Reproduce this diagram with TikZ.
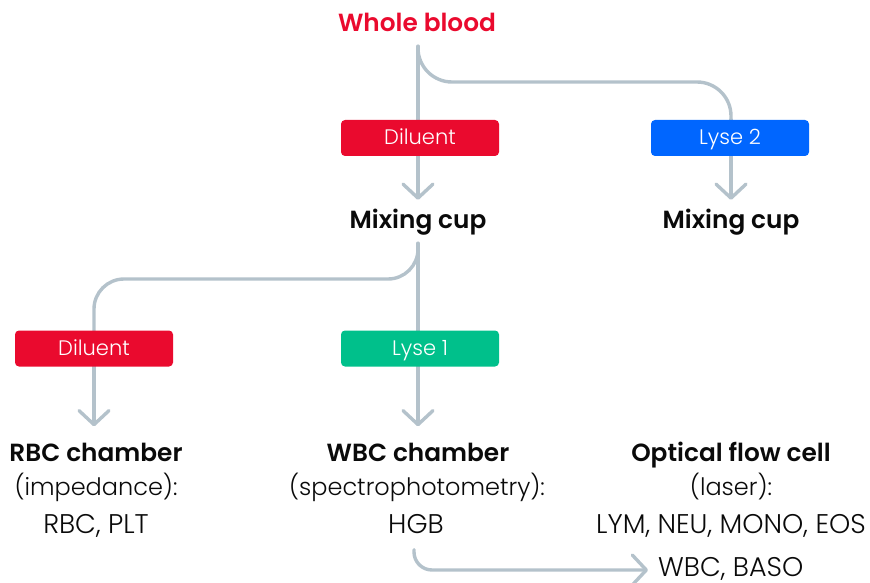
\documentclass[tikz,border=0pt]{standalone}
\usepackage{fontspec}
\setmainfont{Poppins Light}[BoldFont={Poppins SemiBold}]
\usetikzlibrary{arrows.meta,backgrounds}
\definecolor{flowgray}{HTML}{B4C2CB}
\definecolor{redc}{HTML}{EA0A2E}
\definecolor{bluec}{HTML}{0066FF}
\definecolor{greenc}{HTML}{00C08B}
\definecolor{inkc}{HTML}{0A0A0A}
\tikzset{
  flow/.style={draw=flowgray,line width=3.4pt,line cap=round,line join=round},
  arrowed/.style={flow,-{Straight Barb[length=14pt,width=30pt,round,line width=3.4pt]}},
  tag/.style={rounded corners=4pt,minimum width=158pt,minimum height=36pt,inner sep=0pt,text=white,font=\fontsize{21}{21}\selectfont,text height=17pt,text depth=3pt},
  head/.style={inner sep=0pt,anchor=base,text=inkc,font=\fontsize{24.8}{25}\selectfont\bfseries},
  body/.style={inner sep=0pt,anchor=base,text=inkc,font=\fontsize{24}{24}\selectfont},
  value/.style={body,font=\fontsize{27}{27}\selectfont},
}
\begin{document}
\begin{tikzpicture}[x=1pt,y=-1pt]
\useasboundingbox (0,0) rectangle (870,583);
\node[head,text=redc,text height=24pt,text depth=14pt] (blood) at (417,32) {Whole blood};
\node[head,text height=28pt,text depth=15pt] (mixa) at (418,228) {Mixing cup};
\node[head,text height=28pt,text depth=15pt] (mixb) at (731,228) {Mixing cup};
\node[tag,fill=redc] (dila) at (420,138) {Diluent};
\node[tag,fill=bluec] (lyseb) at (730,138) {Lyse 2};
\node[tag,fill=redc] (dilb) at (94,348.5) {Diluent};
\node[tag,fill=greenc] (lysea) at (420,348.5) {Lyse 1};
\node[head,text height=35pt] (rbc) at (96,461.5) {RBC chamber};
\node[body] (imp) at (96,495) {(impedance):};
\node[value] (rbcv) at (96,533.5) {RBC, PLT};
\node[head,text height=35pt] (wbc) at (418,461.5) {WBC chamber};
\node[body] (spec) at (417,495) {(spectrophotometry):};
\node[value,text depth=16pt] (hgb) at (416,533.5) {HGB};
\node[head,text height=35pt] (opt) at (731,461.5) {Optical flow cell};
\node[body] (las) at (731,495) {(laser):};
\node[value] (lym) at (731,533.5) {LYM, NEU, MONO, EOS};
\node[value,anchor=base west,inner xsep=10pt,text height=18pt,text depth=6pt] (baso) at (648,576) {WBC, BASO};
\begin{scope}[on background layer]
\draw[arrowed] ([xshift=1pt]blood.south) -- (mixa.north);
\draw[flow,rounded corners=34pt] ([xshift=1pt]blood.south) |- (566,82) -| (lyseb.north -| mixb);
\draw[arrowed] (lyseb.north -| mixb) -- (mixb.north);
\draw[arrowed] (mixa.south) -- (wbc.north);
\draw[flow,rounded corners=30pt] (mixa.south) |- (250,279) -| (dilb.center);
\draw[arrowed] (dilb.center) -- (dilb.center |- rbc.north);
\draw[arrowed,rounded corners=18pt] ([xshift=-2pt]hgb.south) |- (baso.west);
\end{scope}
\end{tikzpicture}
\end{document}
